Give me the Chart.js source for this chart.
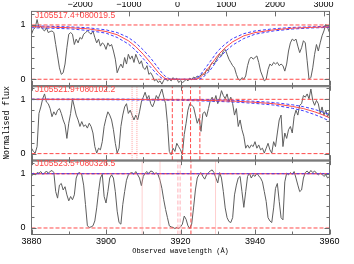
<!DOCTYPE html>
<html>
<head>
<meta charset="utf-8">
<script src="https://cdn.jsdelivr.net/npm/chart.js@4.4.0/dist/chart.umd.min.js"></script>
<style>
  html, body { margin: 0; padding: 0; background: #fff; }
  #wrap { position: relative; width: 354px; height: 264px; overflow: hidden; }
  #spec { position: absolute; left: 0; top: 0; }
  .qso {
    position: absolute; left: 35px; white-space: nowrap;
    font: 8.5px "Liberation Sans", Arial, sans-serif; line-height: 9px; color: #ff4545;
  }
</style>
</head>
<body>
<div id="wrap">
  <canvas id="spec" width="354" height="264"></canvas>
  <div class="qso" style="top:11px">J105517.4+080019.5</div>
  <div class="qso" style="top:85px">J105521.9+080102.2</div>
  <div class="qso" style="top:159px">J105523.5+080326.5</div>
</div>
<script>
(function () {
  "use strict";

  // wavelength grid of the three spectra (Å)
  const wave = [
    3880, 3880.5, 3881, 3881.5, 3882, 3882.5, 3883, 3883.5, 3884, 3884.5,
    3885, 3885.5, 3886, 3886.5, 3887, 3887.5, 3888, 3888.5, 3889, 3889.5,
    3890, 3890.5, 3891, 3891.5, 3892, 3892.5, 3893, 3893.5, 3894, 3894.5,
    3895, 3895.5, 3896, 3896.5, 3897, 3897.5, 3898, 3898.5, 3899, 3899.5,
    3900, 3900.5, 3901, 3901.5, 3902, 3902.5, 3903, 3903.5, 3904, 3904.5,
    3905, 3905.5, 3906, 3906.5, 3907, 3907.5, 3908, 3908.5, 3909, 3909.5,
    3910, 3910.5, 3911, 3911.5, 3912, 3912.5, 3913, 3913.5, 3914, 3914.5,
    3915, 3915.5, 3916, 3916.5, 3917, 3917.5, 3918, 3918.5, 3919, 3919.5,
    3920, 3920.5, 3921, 3921.5, 3922, 3922.5, 3923, 3923.5, 3924, 3924.5,
    3925, 3925.5, 3926, 3926.5, 3927, 3927.5, 3928, 3928.5, 3929, 3929.5,
    3930, 3930.5, 3931, 3931.5, 3932, 3932.5, 3933, 3933.5, 3934, 3934.5,
    3935, 3935.5, 3936, 3936.5, 3937, 3937.5, 3938, 3938.5, 3939, 3939.5,
    3940, 3940.5, 3941, 3941.5, 3942, 3942.5, 3943, 3943.5, 3944, 3944.5,
    3945, 3945.5, 3946, 3946.5, 3947, 3947.5, 3948, 3948.5, 3949, 3949.5,
    3950, 3950.5, 3951, 3951.5, 3952, 3952.5, 3953, 3953.5, 3954, 3954.5,
    3955, 3955.5, 3956, 3956.5, 3957, 3957.5, 3958, 3958.5, 3959, 3959.5,
    3960
  ];

  // normalised flux, J105517.4+080019.5
  const flux1 = [
    0.83, 0.92, 0.95, 1.10, 0.95, 0.98, 0.92, 0.89, 0.95, 0.86,
    0.88, 0.89, 0.86, 0.64, 0.43, 0.21, 0.09, 0.12, 0.28, 0.58,
    0.83, 0.86, 0.83, 0.64, 0.74, 0.67, 0.77, 0.74, 0.83, 0.86,
    0.89, 0.86, 0.83, 0.89, 0.77, 0.67, 0.74, 0.61, 0.67, 0.64,
    0.55, 0.67, 0.61, 0.64, 0.52, 0.37, 0.12, 0.21, 0.28, 0.21,
    0.40, 0.28, 0.46, 0.37, 0.43, 0.31, 0.46, 0.37, 0.28, 0.34,
    0.21, 0.18, 0.25, 0.09, 0.12, 0.06, -0.03, 0.00, -0.06, -0.03,
    -0.09, -0.02, 0.02, -0.03, 0.00, -0.03, 0.03, -0.01, 0.02, -0.06,
    -0.03, -0.06, -0.04, 0.00, -0.03, 0.02, -0.01, 0.04, 0.02, 0.06,
    0.03, 0.08, 0.10, 0.08, 0.18, 0.15, 0.25, 0.31, 0.28, 0.34,
    0.40, 0.46, 0.43, 0.52, 0.55, 0.46, 0.37, 0.31, 0.25, 0.21,
    0.09, 0.00, -0.02, 0.03, 0.00, 0.06, 0.25, 0.37, 0.41, 0.37,
    0.40, 0.43, 0.31, 0.15, 0.06, -0.03, 0.00, 0.18, 0.28, 0.25,
    0.31, 0.28, 0.31, 0.25, 0.28, 0.25, 0.15, 0.28, 0.52, 0.67,
    0.74, 0.71, 0.74, 0.61, 0.49, 0.58, 0.71, 0.67, 0.34, 0.00,
    0.03, 0.21, 0.46, 0.64, 0.52, 0.67, 0.80, 0.89, 1.01, 0.95,
    0.86
  ];

  // normalised flux, J105521.9+080102.2
  const flux2 = [
    0.10, 0.04, 0.01, 0.13, 0.74, 0.86, 1.01, 1.10, 0.95, 0.92,
    0.83, 0.68, 0.77, 0.71, 0.80, 0.83, 0.74, 0.62, 0.53, 0.28,
    0.56, 0.74, 1.01, 0.86, 0.71, 0.62, 0.50, 0.59, 0.50, 0.53,
    0.47, 0.56, 0.50, 0.38, 0.13, 0.01, 0.10, 0.07, 0.22, 0.50,
    0.65, 0.77, 0.71, 0.62, 0.44, 0.19, 0.01, 0.10, 0.50, 0.71,
    0.86, 0.92, 0.74, 0.80, 0.71, 0.62, 0.71, 0.62, 0.77, 0.95,
    1.04, 1.13, 1.01, 1.07, 0.92, 0.86, 0.95, 1.07, 1.01, 1.10,
    1.19, 1.04, 0.92, 0.56, 0.04, -0.02, 0.10, 0.04, 0.19, 0.13,
    0.07, -0.02, 0.35, 0.56, 0.80, 0.92, 0.89, 0.86, 0.71, 0.56,
    0.65, 0.41, 0.74, 0.77, 0.68, 0.83, 0.98, 1.04, 0.95, 1.07,
    0.92, 1.01, 1.16, 1.07, 1.01, 1.10, 0.95, 1.04, 0.92, 0.71,
    0.83, 0.50, 0.62, 0.44, 0.32, 0.10, 0.16, 0.10, 0.16, 0.13,
    0.22, 0.10, 0.16, 0.07, 0.10, 0.01, 0.10, 0.19, 0.07, 0.01,
    0.22, 0.13, 0.38, 0.62, 0.71, 0.13, 0.38, 0.28, 0.44, 0.50,
    0.38, 0.68, 0.80, 0.71, 0.89, 0.92, 1.07, 1.04, 1.10, 1.01,
    1.19, 0.98, 0.89, 0.98, 0.92, 0.74, 0.86, 0.71, 0.80, 0.68,
    0.77
  ];

  // normalised flux, J105523.5+080326.5
  const flux3 = [
    0.95, 1.01, 0.98, 1.02, 1.01, 1.04, 0.99, 1.01, 1.05, 1.01,
    1.04, 1.06, 1.02, 0.67, 0.55, 0.79, 0.82, 0.70, 0.76, 0.61,
    0.50, 0.58, 0.52, 0.61, 0.92, 1.01, 1.02, 0.98, 0.79, 0.43,
    0.04, 0.01, 0.02, 0.04, 0.13, 0.37, 0.67, 0.92, 0.99, 0.58,
    0.46, 0.67, 0.92, 0.98, 0.92, 0.67, 0.31, 0.10, 0.07, 0.43,
    0.67, 0.88, 0.98, 1.01, 1.02, 0.99, 1.04, 0.98, 0.92, 0.78,
    0.95, 1.01, 1.04, 1.00, 1.05, 1.04, 0.99, 1.02, 0.98, 0.88,
    0.73, 0.52, 0.34, 0.19, 0.04, 0.02, 0.01, -0.01, 0.01, -0.01,
    0.02, 0.07, 0.22, 0.16, 0.04, -0.01, 0.07, 0.37, 0.70, 0.92,
    0.99, 1.02, 0.95, 0.90, 0.98, 1.02, 1.05, 1.07, 1.02, 0.92,
    0.83, 1.02, 0.92, 0.67, 0.37, 0.19, 0.12, 0.10, 0.19, 0.61,
    0.79, 0.92, 0.95, 0.67, 0.38, 0.67, 0.95, 1.01, 0.92, 0.98,
    0.95, 1.01, 0.96, 0.92, 0.85, 0.67, 0.49, 0.19, 0.13, 0.10,
    0.37, 0.73, 0.82, 0.49, 0.19, 0.15, 0.85, 1.01, 0.98, 1.02,
    0.99, 1.04, 0.92, 0.79, 0.67, 0.70, 0.92, 1.02, 1.05, 1.01,
    1.06, 1.02, 1.05, 1.01, 0.98, 1.01, 0.99, 0.95, 0.98, 0.92,
    0.95
  ];

  // fitted profile (red) and its error envelope (blue), panel 1
  const fitWave1 = [3880, 3885, 3890, 3895, 3900, 3903, 3906, 3908, 3910, 3912,
    3914, 3915, 3916, 3917, 3918, 3920, 3922, 3923, 3924, 3925,
    3926, 3928, 3930, 3932, 3934, 3937, 3940, 3945, 3950, 3955, 3960];
  const fit1 = [0.97, 0.96, 0.95, 0.93, 0.88, 0.82, 0.71, 0.60, 0.46, 0.30,
    0.13, 0.06, 0.01, 0, 0, 0, 0, 0, 0, 0.02,
    0.08, 0.25, 0.44, 0.58, 0.69, 0.80, 0.86, 0.91, 0.94, 0.955, 0.965];
  const fit1Lo = [0.95, 0.94, 0.93, 0.90, 0.85, 0.77, 0.65, 0.53, 0.38, 0.22,
    0.07, 0.02, 0, 0, 0, 0, 0, 0, 0, 0,
    0.03, 0.17, 0.36, 0.51, 0.63, 0.75, 0.83, 0.89, 0.925, 0.945, 0.955];
  const fit1Hi = [0.985, 0.975, 0.965, 0.95, 0.91, 0.86, 0.77, 0.67, 0.54, 0.39,
    0.21, 0.12, 0.05, 0.01, 0, 0, 0, 0, 0.01, 0.06,
    0.14, 0.33, 0.52, 0.65, 0.75, 0.84, 0.89, 0.93, 0.955, 0.965, 0.975];

  // panel 2 profile
  const fitWave2 = [3880, 3900, 3920, 3930, 3935, 3940, 3945, 3950, 3953, 3956, 3958, 3960];
  const fit2 = [1.0, 1.0, 0.99, 0.975, 0.965, 0.945, 0.92, 0.87, 0.83, 0.77, 0.72, 0.66];
  const fit2Lo = [0.995, 0.993, 0.982, 0.962, 0.948, 0.925, 0.895, 0.835, 0.79, 0.72, 0.665, 0.60];
  const fit2Hi = [1.005, 1.005, 0.997, 0.987, 0.98, 0.963, 0.942, 0.90, 0.865, 0.815, 0.77, 0.72];

  // panel 3 profile
  const fitWave3 = [3880, 3960];
  const fit3 = [1, 1];

  // reference levels and marked wavelengths
  const refLevels = [0, 1];
  const dashed2 = [3917.8, 3920.5, 3922.7, 3925.2];
  const dotted2 = [3907.0, 3908.3];
  const pale3 = [3919.3, 3919.9];
  const dashed3 = [3922.8];
  const dotted3 = [3909.7, 3914.5, 3929.4];

  // axes
  const waveTicks = [3880, 3890, 3900, 3910, 3920, 3930, 3940, 3950, 3960];
  const waveLabels = [3880, 3900, 3920, 3940, 3960];
  const velTicks = [-2000, -1000, 0, 1000, 2000, 3000];
  const fluxTicks = [0, 0.2, 0.4, 0.6, 0.8, 1.0, 1.2];
  const fluxLabels = [0, 1];
  const fluxMin = -0.12;
  const fluxMax = 1.25;
  const panels = ["y1", "y2", "y3"];

  const RED = "#ff4a4a";
  const BLUE = "#3c3cff";
  const GREY = "#5e5e5e";
  const FRAME = "#6e6e6e";

  const pts = (xs, ys) => xs.map((x, i) => ({ x, y: ys[i] }));

  function line(data, yAxisID, color, extra) {
    return Object.assign({
      data, yAxisID, xAxisID: "x",
      borderColor: color, borderWidth: 1,
      pointRadius: 0, fill: false, tension: 0
    }, extra);
  }

  function vlines(list, yAxisID, color, dash) {
    return list.map((w) =>
      line([{ x: w, y: fluxMin }, { x: w, y: fluxMax }], yAxisID, color,
        { borderDash: dash, order: 6 }));
  }

  const datasets = [];
  [flux1, flux2, flux3].forEach((f, n) => {
    datasets.push(line(pts(wave, f), panels[n], GREY, { order: 10 }));
    refLevels.forEach((lv) => {
      datasets.push(line(pts([3880, 3960], [lv, lv]), panels[n], RED,
        { borderDash: [4, 2], order: 8 }));
    });
  });

  datasets.push(...vlines(dotted2, "y2", "#ffa0a0", [1, 1]));
  datasets.push(...vlines(dashed2, "y2", RED, [4, 2]));
  datasets.push(...vlines(dotted3, "y3", "#ffa0a0", [1, 1]));
  datasets.push(...vlines(pale3, "y3", "#ffb0b8", [4, 2]));
  datasets.push(...vlines(dashed3, "y3", RED, [4, 2]));

  datasets.push(line(pts(fitWave1, fit1Lo), "y1", BLUE, { borderDash: [3, 2], order: 4 }));
  datasets.push(line(pts(fitWave1, fit1Hi), "y1", BLUE, { borderDash: [3, 2], order: 4 }));
  datasets.push(line(pts(fitWave1, fit1), "y1", RED, { order: 3 }));
  datasets.push(line(pts(fitWave2, fit2Lo), "y2", BLUE, { borderDash: [3, 2], order: 4 }));
  datasets.push(line(pts(fitWave2, fit2Hi), "y2", BLUE, { borderDash: [3, 2], order: 4 }));
  datasets.push(line(pts(fitWave2, fit2), "y2", RED, { order: 3 }));
  datasets.push(line(pts(fitWave3, fit3), "y3", RED, { order: 3 }));
  datasets.push(line(pts(fitWave3, fit3), "y3", BLUE, { borderDash: [3, 2], order: 2 }));

  const tickFont = { family: "'Liberation Sans', Arial, sans-serif", size: 9 };
  const monoFont = "'Liberation Mono', monospace";

  function fluxScale(withTitle) {
    return {
      type: "linear", position: "left", stack: "flux", stackWeight: 1,
      min: fluxMin, max: fluxMax,
      grid: { display: false, drawTicks: false },
      border: { display: false },
      afterBuildTicks: (s) => { s.ticks = fluxLabels.map((v) => ({ value: v })); },
      afterFit: (s) => { s.width = 31.5; },
      ticks: { padding: 6, color: "#000", font: tickFont, callback: (v) => String(v) },
      title: {
        display: withTitle, text: "Normalised flux", color: "#000",
        font: { family: monoFont, size: 8.2 }, padding: { top: 1.5, bottom: 0 }
      }
    };
  }

  // frames with inward tick marks, IDL style
  const frames = {
    id: "frames",
    afterDatasetsDraw(chart) {
      const { ctx, scales } = chart;
      const xs = scales.x;
      const vs = scales.x2;
      ctx.save();
      ctx.strokeStyle = FRAME;
      ctx.lineWidth = 1;
      panels.forEach((id, n) => {
        const ys = scales[id];
        ctx.strokeRect(xs.left, ys.top, xs.right - xs.left, ys.bottom - ys.top);
        ctx.beginPath();
        if (n > 0) {
          // shared edge between panels is drawn twice in the original
          ctx.moveTo(xs.left, ys.top + 1);
          ctx.lineTo(xs.right, ys.top + 1);
        }
        waveTicks.forEach((w) => {
          const px = Math.round(xs.getPixelForValue(w)) + 0.5;
          const len = waveLabels.includes(w) ? 5 : 3;
          ctx.moveTo(px, ys.bottom);
          ctx.lineTo(px, ys.bottom - len);
          if (n > 0) {
            ctx.moveTo(px, ys.top);
            ctx.lineTo(px, ys.top + len);
          }
        });
        if (n === 0) {
          velTicks.forEach((v) => {
            const px = Math.round(vs.getPixelForValue(v)) + 0.5;
            ctx.moveTo(px, ys.top);
            ctx.lineTo(px, ys.top + 5);
          });
        }
        fluxTicks.forEach((f) => {
          const py = Math.round(ys.getPixelForValue(f)) + 0.5;
          const len = fluxLabels.includes(f) ? 5 : 3;
          ctx.moveTo(xs.left, py);
          ctx.lineTo(xs.left + len, py);
          ctx.moveTo(xs.right, py);
          ctx.lineTo(xs.right - len, py);
        });
        ctx.stroke();
      });
      ctx.restore();
    }
  };

  new Chart(document.getElementById("spec"), {
    type: "line",
    data: { datasets },
    plugins: [frames],
    options: {
      responsive: false,
      animation: false,
      devicePixelRatio: 1,
      layout: { padding: { left: 0, right: 24.5, top: 0, bottom: 0 } },
      plugins: { legend: { display: false }, tooltip: { enabled: false } },
      scales: {
        // stacked axes are laid out bottom-up, so the lowest panel comes first
        y3: fluxScale(false),
        y2: fluxScale(true),
        y1: fluxScale(false),
        x2: {
          type: "linear", position: "top", min: -2999, max: 3121,
          grid: { display: false, drawTicks: false },
          border: { display: false },
          afterBuildTicks: (s) => { s.ticks = velTicks.map((v) => ({ value: v })); },
          afterFit: (s) => { s.height = 9.5; },
          ticks: {
            padding: 1, maxRotation: 0, autoSkip: false, color: "#000", font: tickFont,
            callback: (v) => (v < 0 ? "\u2212" + Math.abs(v) : String(v))
          }
        },
        x: {
          type: "linear", position: "bottom", min: 3880, max: 3960,
          grid: { display: false, drawTicks: false },
          border: { display: false },
          afterBuildTicks: (s) => { s.ticks = waveLabels.map((v) => ({ value: v })); },
          afterFit: (s) => { s.height = 29.5; },
          ticks: {
            padding: 2, maxRotation: 0, autoSkip: false, color: "#000", font: tickFont,
            callback: (v) => String(v)
          },
          title: {
            display: true, text: "Observed wavelength (\u00c5)", color: "#000",
            font: { family: monoFont, size: 7 }, padding: { top: 0, bottom: 9 }
          }
        }
      }
    }
  });
})();
</script>
</body>
</html>
